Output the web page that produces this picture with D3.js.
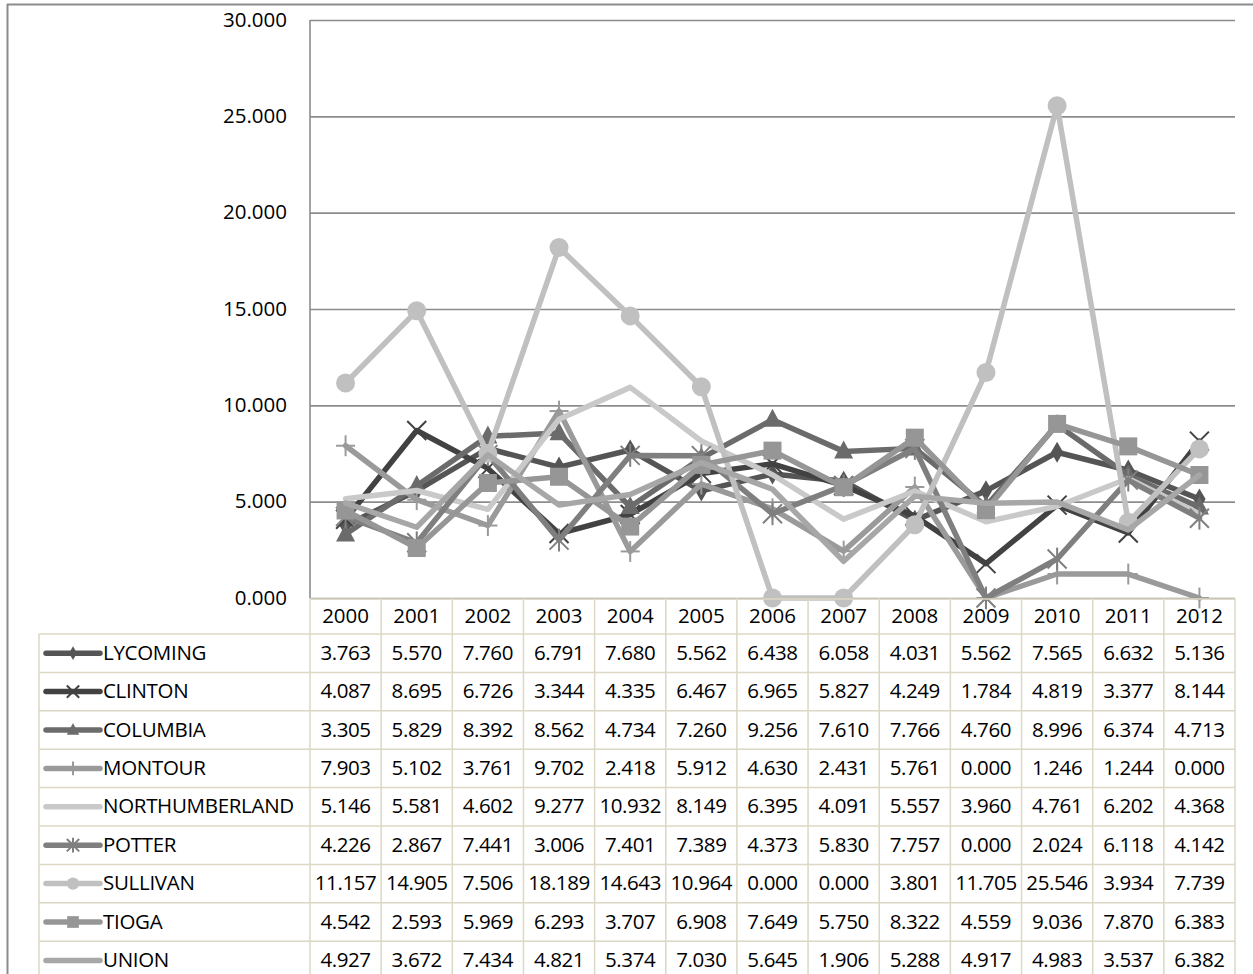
<!DOCTYPE html>
<html>
<head>
<meta charset="utf-8">
<script src="https://cdn.jsdelivr.net/npm/d3@7"></script>
<style>
  html, body { margin: 0; padding: 0; background: #fff; }
  svg { display: block; font-family: "Open Sans", "DejaVu Sans", sans-serif; }
</style>
</head>
<body>
<svg id="chart" width="1253" height="974"></svg>
<script>
// Years along the category axis
const years = ["2000","2001","2002","2003","2004","2005","2006","2007","2008","2009","2010","2011","2012"];

// County names, in series order
const counties = ["LYCOMING","CLINTON","COLUMBIA","MONTOUR","NORTHUMBERLAND","POTTER","SULLIVAN","TIOGA","UNION"];

// Yearly values per county
const lycoming       = [3.763, 5.570, 7.760, 6.791, 7.680, 5.562, 6.438, 6.058, 4.031, 5.562, 7.565, 6.632, 5.136];
const clinton        = [4.087, 8.695, 6.726, 3.344, 4.335, 6.467, 6.965, 5.827, 4.249, 1.784, 4.819, 3.377, 8.144];
const columbia       = [3.305, 5.829, 8.392, 8.562, 4.734, 7.260, 9.256, 7.610, 7.766, 4.760, 8.996, 6.374, 4.713];
const montour        = [7.903, 5.102, 3.761, 9.702, 2.418, 5.912, 4.630, 2.431, 5.761, 0.000, 1.246, 1.244, 0.000];
const northumberland = [5.146, 5.581, 4.602, 9.277, 10.932, 8.149, 6.395, 4.091, 5.557, 3.960, 4.761, 6.202, 4.368];
const potter         = [4.226, 2.867, 7.441, 3.006, 7.401, 7.389, 4.373, 5.830, 7.757, 0.000, 2.024, 6.118, 4.142];
const sullivan       = [11.157, 14.905, 7.506, 18.189, 14.643, 10.964, 0.000, 0.000, 3.801, 11.705, 25.546, 3.934, 7.739];
const tioga          = [4.542, 2.593, 5.969, 6.293, 3.707, 6.908, 7.649, 5.750, 8.322, 4.559, 9.036, 7.870, 6.383];
const union          = [4.927, 3.672, 7.434, 4.821, 5.374, 7.030, 5.645, 1.906, 5.288, 4.917, 4.983, 3.537, 6.382];

// Value axis ticks
const yTicks = [0, 5, 10, 15, 20, 25, 30];

const seriesValues = [lycoming, clinton, columbia, montour, northumberland, potter, sullivan, tioga, union];

// Per-series look: grey tone and marker kind
const styles = [
  { color: "#555555", marker: "diamond" },
  { color: "#424242", marker: "x" },
  { color: "#6b6b6b", marker: "triangle" },
  { color: "#9a9a9a", marker: "plus" },
  { color: "#c9c9c9", marker: "none" },
  { color: "#7f7f7f", marker: "star" },
  { color: "#c0c0c0", marker: "circle" },
  { color: "#969696", marker: "square" },
  { color: "#a7a7a7", marker: "none" }
];

const series = counties.map((name, i) => ({ name, values: seriesValues[i], ...styles[i] }));

const svg = d3.select("#chart");

// Plot geometry
const plotLeft = 310, plotRight = 1235, plotTop = 20, plotBottom = 598;
const legendLeft = 39;
const headerBottom = 634;
const rowH = 38.4;

const x = d3.scaleBand().domain(years).range([plotLeft, plotRight]);
const y = d3.scaleLinear().domain([0, 30]).range([plotBottom, plotTop]);

// Outer chart frame
svg.append("line").attr("x1", 7).attr("x2", 1253).attr("y1", 4.5).attr("y2", 4.5)
  .attr("stroke", "#8c8c8c").attr("stroke-width", 2);
svg.append("line").attr("x1", 7.5).attr("x2", 7.5).attr("y1", 4).attr("y2", 974)
  .attr("stroke", "#8c8c8c").attr("stroke-width", 2);

// Horizontal gridlines and value labels
const yAxis = d3.axisLeft(y).tickValues(yTicks).tickFormat(d3.format(".3f"))
  .tickSize(-(plotRight - plotLeft)).tickPadding(23);
const gy = svg.append("g").attr("transform", `translate(${plotLeft},0)`).call(yAxis);
gy.select(".domain").remove();
gy.selectAll(".tick line").attr("stroke", "#8c8c8c").attr("stroke-width", 1.6);
gy.selectAll(".tick text").attr("fill", "#000").attr("font-size", 20.5)
  .attr("font-family", "'Open Sans', sans-serif").attr("dy", "0.3em");

// Vertical value axis line
svg.append("line").attr("x1", plotLeft).attr("x2", plotLeft).attr("y1", plotTop).attr("y2", plotBottom)
  .attr("stroke", "#8c8c8c").attr("stroke-width", 1.6);

// Marker drawing
function drawMarker(g, kind, color, s) {
  const sym = (type, size) => g.append("path").attr("d", d3.symbol().type(type).size(size)()).attr("fill", color);
  if (kind === "diamond") sym(d3.symbolDiamond, 130 * s * s);
  else if (kind === "triangle") {
    const h = 18 * s, w = 19 * s;
    g.append("path").attr("d", `M0,${-h * 0.6}L${w / 2},${h * 0.4}L${-w / 2},${h * 0.4}Z`).attr("fill", color);
  }
  else if (kind === "square") {
    const a = 18 * s;
    g.append("rect").attr("x", -a / 2).attr("y", -a / 2).attr("width", a).attr("height", a).attr("fill", color);
  }
  else if (kind === "circle") g.append("circle").attr("r", 9.5 * s).attr("fill", color);
  else if (kind === "x" || kind === "plus" || kind === "star") {
    const r = 9.5 * s;
    const segs = [];
    if (kind === "x" || kind === "star") segs.push([-r, -r, r, r], [-r, r, r, -r]);
    if (kind === "plus") segs.push([-r, 0, r, 0], [0, -r * 1.1, 0, r * 1.1]);
    if (kind === "star") segs.push([0, -r * 1.2, 0, r * 1.2]);
    segs.forEach(d => g.append("line").attr("x1", d[0]).attr("y1", d[1]).attr("x2", d[2]).attr("y2", d[3])
      .attr("stroke", color).attr("stroke-width", 2));
  }
}

const line = d3.line()
  .x((d, i) => x(years[i]) + x.bandwidth() / 2)
  .y(d => y(d));

// Series lines and markers
series.forEach(s => {
  const g = svg.append("g");
  g.append("path").attr("d", line(s.values)).attr("fill", "none")
    .attr("stroke", s.color).attr("stroke-width", 5.5)
    .attr("stroke-linejoin", "round").attr("stroke-linecap", "round");
  s.values.forEach((v, i) => {
    const m = g.append("g").attr("transform", `translate(${x(years[i]) + x.bandwidth() / 2},${y(v)})`);
    drawMarker(m, s.marker, s.color, 1);
  });
});

// Data table
const gridColor = "#dcd8c4";
const table = svg.append("g");
const tableBottom = headerBottom + rowH * counties.length;

// Header row with years
years.forEach(yr => {
  table.append("text").attr("x", x(yr) + x.bandwidth() / 2).attr("y", (plotBottom + headerBottom) / 2 - 1.5)
    .attr("text-anchor", "middle").attr("dominant-baseline", "central")
    .attr("font-size", 20.5).attr("fill", "#000").text(yr);
});

// Table body rows
series.forEach((s, r) => {
  const cy = headerBottom + rowH * r + rowH / 2;
  const key = table.append("g");
  key.append("line").attr("x1", 46).attr("x2", 100).attr("y1", cy).attr("y2", cy)
    .attr("stroke", s.color).attr("stroke-width", 5.5).attr("stroke-linecap", "round");
  const m = key.append("g").attr("transform", `translate(73,${cy})`);
  drawMarker(m, s.marker, s.color, 0.65);
  table.append("text").attr("x", 103).attr("y", cy - 1.5).attr("dominant-baseline", "central")
    .attr("font-size", 20.5).attr("letter-spacing", -0.3).attr("fill", "#000").text(s.name);
  s.values.forEach((v, i) => {
    table.append("text").attr("x", x(years[i]) + x.bandwidth() / 2).attr("y", cy - 1.5)
      .attr("text-anchor", "middle").attr("dominant-baseline", "central")
      .attr("font-size", 20.5).attr("letter-spacing", -0.4).attr("fill", "#000").text(d3.format(".3f")(v));
  });
});

// Table grid lines
const hLines = d3.range(counties.length + 1).map(r => headerBottom + rowH * r);
table.selectAll("line.h").data(hLines).enter().append("line")
  .attr("x1", legendLeft).attr("x2", plotRight).attr("y1", d => d).attr("y2", d => d)
  .attr("stroke", gridColor).attr("stroke-width", 1.5);
table.append("line").attr("x1", plotLeft).attr("x2", plotRight).attr("y1", plotBottom + 1).attr("y2", plotBottom + 1)
  .attr("stroke", gridColor).attr("stroke-width", 1.5);
const vLines = years.map(yr => x(yr)).concat([plotRight]);
table.selectAll("line.v").data(vLines).enter().append("line")
  .attr("x1", d => d).attr("x2", d => d).attr("y1", plotBottom).attr("y2", tableBottom + 10)
  .attr("stroke", gridColor).attr("stroke-width", 1.5);
table.append("line").attr("x1", legendLeft).attr("x2", legendLeft).attr("y1", headerBottom).attr("y2", tableBottom + 10)
  .attr("stroke", gridColor).attr("stroke-width", 1.5);
</script>
</body>
</html>
